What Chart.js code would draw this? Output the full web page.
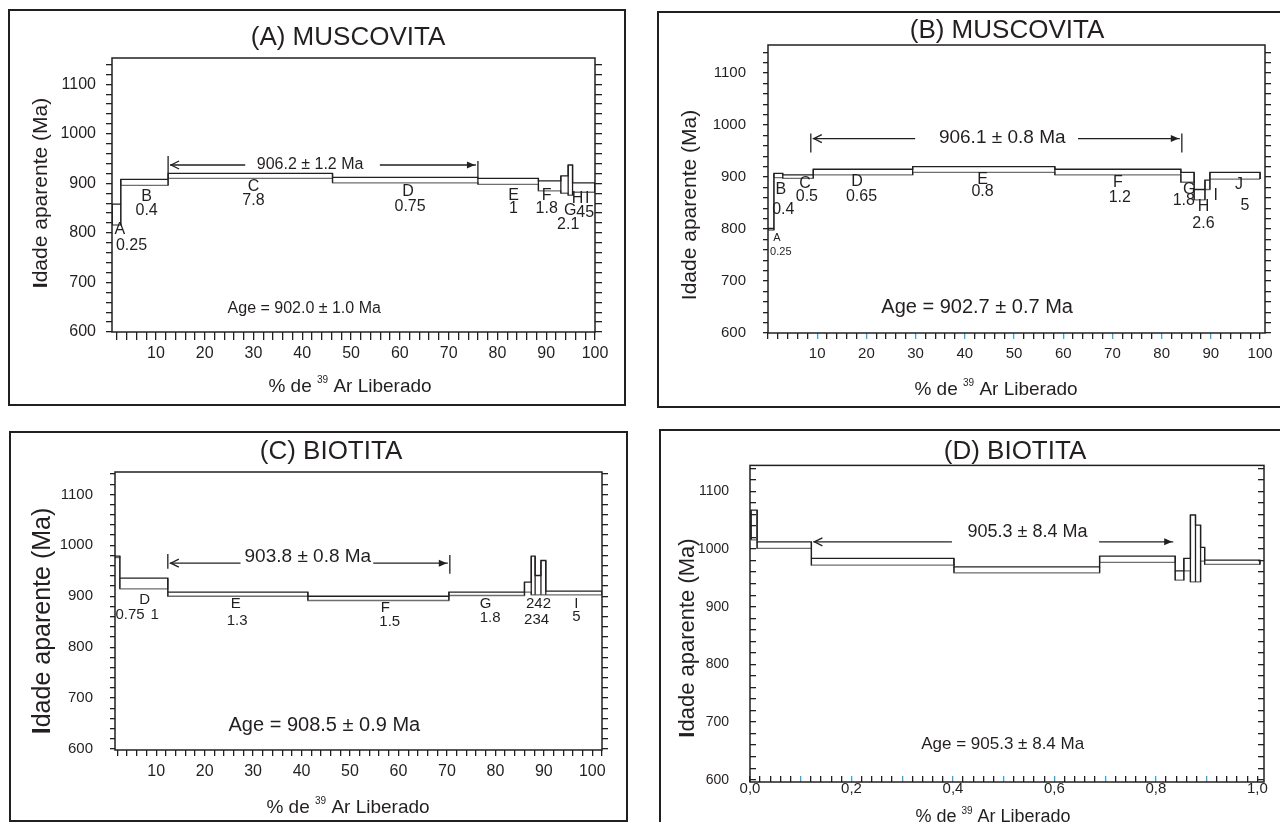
<!DOCTYPE html>
<html lang="pt">
<head>
<meta charset="utf-8">
<title>Espectros 40Ar/39Ar – Muscovita e Biotita</title>
<script src="https://cdn.jsdelivr.net/npm/chart.js@4.4.1/dist/chart.umd.min.js"></script>
<style>
  html, body { margin:0; padding:0; background:#fff; }
  body { width:1280px; height:822px; position:relative; overflow:hidden; }
  .box { position:absolute; border:2px solid #231f20; box-sizing:border-box; }
  canvas { position:absolute; }
</style>
</head>
<body>
<div class="box" style="left:8px;top:9px;width:618px;height:397px"></div>
<div class="box" style="left:657px;top:11px;width:700px;height:397px"></div>
<div class="box" style="left:9px;top:431px;width:619px;height:391px"></div>
<div class="box" style="left:659px;top:429px;width:700px;height:500px"></div>
<canvas id="cA" width="615" height="395" style="left:9px;top:10px"></canvas>
<canvas id="cB" width="622" height="394" style="left:658px;top:12px"></canvas>
<canvas id="cC" width="617" height="388" style="left:10px;top:432px"></canvas>
<canvas id="cD" width="620" height="392" style="left:660px;top:430px"></canvas>
<script>
// ================= DATA =================
// ---- (A) MUSCOVITA ----
const A_bounds = [1.0, 2.8, 12.5, 46.2, 76.0, 88.4, 93.0, 94.5, 95.4, 100];
const A_lo = [816, 896, 910, 901, 898, 885, 880, 876, 882];
const A_hi = [858, 908, 920, 912, 910, 905, 915, 937, 901];
const A_stepLabels = ['A','0.25','B','0.4','C','7.8','D','0.75','E','1','F','1.8','G','2.1','H','I','45'];
const A_stepLabelX = [2.6, 5.0, 8.1, 8.1, 30.0, 30.0, 61.7, 62.1, 83.3, 83.3, 90.1, 90.1, 94.9, 94.5, 96.4, 98.4, 98.0];
const A_stepLabelY = [807, 775, 873, 845, 893, 866, 883, 853, 876, 849, 876, 849, 846, 816, 870, 870, 842];
const A_plateau = [12.5, 76.0];
const A_plateauGap = [28.3, 55.9];
const A_plateauLevel = 937;
const A_barLeft = [920, 955];
const A_barRight = [913, 945];
const A_plateauText = '906.2 ± 1.2 Ma';
const A_plateauTextAt = [41.6, 937];
const A_ageText = 'Age = 902.0 ± 1.0 Ma';
const A_ageTextAt = [40.4, 648];
const A_xTickLabels = ['10','20','30','40','50','60','70','80','90','100'];
const A_yTickLabels = ['600','700','800','900','1000','1100'];

// ---- (B) MUSCOVITA ----
const B_bounds = [0, 1.2, 3.0, 9.2, 29.4, 58.3, 83.9, 86.6, 88.8, 89.8, 100];
const B_lo = [798, 899, 897.5, 904, 909, 904, 890, 856, 876, 896];
const B_hi = [801, 907, 904, 915, 920, 915, 909, 876, 894, 909];
const B_stepLabels = ['A','0.25','B','0.4','C','0.5','D','0.65','E','0.8','F','1.2','G','1.8','H','2.6','I','J','5'];
const B_stepLabelX = [1.8, 2.6, 2.6, 3.1, 7.5, 7.9, 18.1, 19.0, 43.6, 43.6, 71.1, 71.5, 85.6, 84.5, 88.5, 88.5, 91.0, 95.7, 96.9];
const B_stepLabelY = [782, 756, 875, 838, 888, 863, 891, 862, 896, 872, 889, 861, 876, 854, 843, 811, 865, 885, 846];
const B_plateau = [8.7, 84.1];
const B_plateauGap = [29.9, 63.0];
const B_plateauLevel = 974;
const B_barLeft = [947, 984];
const B_barRight = [947, 984];
const B_plateauText = '906.1 ± 0.8 Ma';
const B_plateauTextAt = [47.6, 976];
const B_ageText = 'Age = 902.7 ± 0.7 Ma';
const B_ageTextAt = [42.5, 650];
const B_xTickLabels = ['10','20','30','40','50','60','70','80','90','100'];
const B_yTickLabels = ['600','700','800','900','1000','1100'];

// ---- (C) BIOTITA ----
const C_bounds = [1.5, 2.5, 12.4, 41.3, 70.4, 86.0, 87.4, 88.2, 89.4, 90.4, 102];
const C_lo = [976, 914.6, 900, 891.6, 901.4, 908, 902.8, 902.8, 902.8, 902.8];
const C_hi = [978.7, 935.4, 908, 900, 908, 927.6, 978.7, 940.7, 970.2, 910];
const C_stepLabels = ['D','0.75','1','E','1.3','F','1.5','G','1.8','242','234','I','5'];
const C_stepLabelX = [7.6, 4.6, 9.7, 26.4, 26.7, 57.3, 58.2, 78.0, 78.9, 88.9, 88.5, 96.7, 96.7];
const C_stepLabelY = [892, 864, 864, 886, 852, 878, 849, 886, 858, 886, 854, 886, 859];
const C_plateau = [12.4, 70.6];
const C_plateauGap = [27.4, 54.8];
const C_plateauLevel = 965;
const C_barLeft = [954, 983];
const C_barRight = [944, 981];
const C_plateauText = '903.8 ± 0.8 Ma';
const C_plateauTextAt = [41.3, 977];
const C_ageText = 'Age = 908.5 ± 0.9 Ma';
const C_ageTextAt = [44.7, 646];
const C_xTickLabels = ['10','20','30','40','50','60','70','80','90','100'];
const C_yTickLabels = ['600','700','800','900','1000','1100'];

// ---- (D) BIOTITA ----
const D_bounds = [0.002, 0.014, 0.121, 0.402, 0.689, 0.838, 0.855, 0.868, 0.878, 0.888, 0.896, 1.005];
const D_lo = [1016, 1001, 972, 958.7, 976.7, 946, 962, 943, 943, 979, 973.3];
const D_hi = [1067.5, 1012.5, 983.7, 969, 987.7, 962, 983.7, 1059, 1041.5, 1003, 980.7];
const D_plateau = [0.121, 0.838];
const D_plateauGap = [0.398, 0.688];
const D_plateauLevel = 1012.5;
const D_plateauText = '905.3 ± 8.4 Ma';
const D_plateauTextAt = [0.547, 1030];
const D_ageText = 'Age = 905.3 ± 8.4 Ma';
const D_ageTextAt = [0.498, 662];
const D_xTickLabels = ['0,0','0,2','0,4','0,6','0,8','1,0'];
const D_yTickLabels = ['600','700','800','900','1000','1100'];

// ================= DRAWING =================
const INK = '#231f20', GREY = '#6d6e71', BLUE = '#29abe2';
const FONT = '"Liberation Sans", Arial, Helvetica, sans-serif';

function makeTicks(min, max, step) {
  const out = [];
  const k0 = Math.ceil(min / step - 1e-9), k1 = Math.floor(max / step + 1e-9);
  for (let k = k0; k <= k1; k++) out.push({ value: Math.round(k * step * 1e6) / 1e6 });
  return out;
}
function labelFor(list, v) {
  const s = list.find(l => Math.abs(parseFloat(l.replace(',', '.')) - v) < 1e-6);
  return s === undefined ? '' : s;
}
function text(ctx, s, x, y, size, weight) {
  ctx.font = (weight || 'normal') + ' ' + size + 'px ' + FONT;
  ctx.textAlign = 'center'; ctx.textBaseline = 'middle';
  ctx.fillText(s, x, y);
}
function yTitle(ctx, x, y, size, boldI) {
  ctx.save();
  ctx.translate(x, y); ctx.rotate(-Math.PI / 2);
  ctx.textBaseline = 'middle'; ctx.textAlign = 'left';
  const f1 = (boldI ? 'bold ' : '') + size + 'px ' + FONT, f2 = size + 'px ' + FONT;
  ctx.font = f1; const w1 = ctx.measureText('I').width;
  ctx.font = f2; const w2 = ctx.measureText('dade aparente (Ma)').width;
  let sx = -(w1 + w2) / 2;
  ctx.font = f1; ctx.fillText('I', sx, 0);
  ctx.font = f2; ctx.fillText('dade aparente (Ma)', sx + w1, 0);
  ctx.restore();
}
function xTitle(ctx, cx, cy, size) {
  const parts = [['% de ', size, 0], ['39', Math.round(size * 0.55), -size * 0.45], [' Ar Liberado', size, 0]];
  ctx.textAlign = 'left'; ctx.textBaseline = 'alphabetic';
  let total = 0;
  parts.forEach(pt => { ctx.font = pt[1] + 'px ' + FONT; pt.push(ctx.measureText(pt[0]).width); total += pt[3]; });
  let x = cx - total / 2; const base = cy + size * 0.36;
  parts.forEach(pt => { ctx.font = pt[1] + 'px ' + FONT; ctx.fillText(pt[0], x, base + pt[2]); x += pt[3]; });
}
function seg(ctx, x1, y1, x2, y2) { ctx.beginPath(); ctx.moveTo(x1, y1); ctx.lineTo(x2, y2); ctx.stroke(); }

function decorations(p) {
  return {
    id: 'deco' + p.id,
    afterDraw(chart) {
      const ctx = chart.ctx, a = chart.chartArea, xs = chart.scales.x, ys = chart.scales.y;
      const X = v => xs.getPixelForValue(v), Y = v => ys.getPixelForValue(v);
      ctx.save();
      ctx.strokeStyle = INK; ctx.fillStyle = INK; ctx.lineWidth = 1.5;
      ctx.strokeRect(a.left, a.top, a.right - a.left, a.bottom - a.top);
      text(ctx, p.title, p.titleAt[0], p.titleAt[1], 26);
      yTitle(ctx, p.yTitleAt[0], p.yTitleAt[1], p.yTitleSize, p.boldI);
      xTitle(ctx, p.xTitleAt[0], p.xTitleAt[1], p.xTitleSize);
      (p.stepLabels || []).forEach((s, i) => {
        const small = p.smallLabels && p.smallLabels.includes(i);
        text(ctx, s, X(p.stepLabelX[i]), Y(p.stepLabelY[i]), small ? p.smallSize : p.labelSize);
      });
      // plateau arrow
      ctx.lineWidth = 1.3;
      const x0 = X(p.plateau[0]), x1 = X(p.plateau[1]), yl = Y(p.plateauLevel);
      seg(ctx, x0 + 2, yl, X(p.plateauGap[0]), yl);
      seg(ctx, X(p.plateauGap[1]), yl, x1 - 2, yl);
      if (p.barLeft) seg(ctx, x0, Y(p.barLeft[0]), x0, Y(p.barLeft[1]));
      if (p.barRight) seg(ctx, x1, Y(p.barRight[0]), x1, Y(p.barRight[1]));
      const lt = x0 + 3;
      ctx.beginPath(); ctx.moveTo(lt + 8, yl - 4); ctx.lineTo(lt, yl); ctx.lineTo(lt + 8, yl + 4); ctx.stroke();
      const rt = x1 - 3;
      ctx.beginPath(); ctx.moveTo(rt - 8, yl - 3.5); ctx.lineTo(rt, yl); ctx.lineTo(rt - 8, yl + 3.5); ctx.closePath(); ctx.fill();
      text(ctx, p.plateauText, X(p.plateauTextAt[0]), Y(p.plateauTextAt[1]), p.plateauSize);
      text(ctx, p.ageText, X(p.ageTextAt[0]), Y(p.ageTextAt[1]), p.ageSize);
      ctx.restore();
    }
  };
}

function buildChart(p) {
  const n = p.lo.length, b = p.bounds;
  const upper = [{x: b[0], y: p.lo[0]}];
  const lower = [];
  for (let i = 0; i < n; i++) {
    upper.push({x: b[i], y: p.hi[i]}, {x: b[i + 1], y: p.hi[i]});
    lower.push({x: b[i], y: p.lo[i]}, {x: b[i + 1], y: p.lo[i]});
  }
  upper.push({x: b[n], y: p.lo[n - 1]});
  const edges = [];
  for (let i = 0; i < n; i++) {
    [b[i], b[i + 1]].forEach(xv => edges.push({x: xv, y: p.lo[i]}, {x: xv, y: p.hi[i]}, {x: xv, y: null}));
  }
  const line = (data, color) => ({data, showLine: true, borderColor: color, borderWidth: 1.3,
    pointRadius: 0, pointHoverRadius: 0, fill: false, tension: 0, spanGaps: false});
  const tickCol = c => (c.tick && p.blue && p.blue(c.tick.value)) ? BLUE : INK;
  const yScale = pos => ({
    type: 'linear', position: pos, min: p.yMin, max: p.yMax, bounds: 'data',
    afterBuildTicks: s => { s.ticks = makeTicks(p.yMin, p.yMax, p.yStep); },
    afterFit: s => { s.width = pos === 'left' ? p.yAxisW : p.y2AxisW; },
    ticks: { display: pos === 'left', autoSkip: false, padding: p.yPad, color: INK,
      font: {family: FONT, size: p.yFont}, callback: v => labelFor(p.yLabels, v) },
    grid: { drawOnChartArea: false, drawTicks: true, tickLength: pos === 'left' ? p.yTickLen : p.y2TickLen,
      lineWidth: 1.3, color: INK },
    border: { display: false }
  });
  return new Chart(document.getElementById(p.canvas), {
    type: 'scatter',
    data: { datasets: [line(upper, INK), line(edges, INK), line(lower, GREY)] },
    options: {
      responsive: false, animation: false, events: [],
      layout: { padding: { top: p.padTop, left: 0, right: 0, bottom: 0 } },
      plugins: { legend: {display: false}, tooltip: {enabled: false}, title: {display: false} },
      scales: {
        x: {
          type: 'linear', position: 'bottom', min: p.xMin, max: p.xMax, bounds: 'data',
          afterBuildTicks: s => { s.ticks = makeTicks(p.xMin, p.xMax, p.xStep); },
          afterFit: s => { s.height = p.xAxisH; },
          ticks: { autoSkip: false, maxRotation: 0, minRotation: 0, padding: p.xPad, color: INK,
            font: {family: FONT, size: p.xFont}, callback: v => labelFor(p.xLabels, v) },
          grid: { drawOnChartArea: false, drawTicks: true, tickLength: p.xTickLen, lineWidth: 1.3, color: tickCol },
          border: { display: false }
        },
        y: yScale('left'),
        y2: yScale('right')
      }
    },
    plugins: [decorations(p)]
  });
}

buildChart({
  id: 'A', canvas: 'cA', bounds: A_bounds, lo: A_lo, hi: A_hi,
  xMin: 1, xMax: 100, xStep: 2, xLabels: A_xTickLabels, yMin: 600, yMax: 1153, yStep: 20, yLabels: A_yTickLabels,
  yAxisW: 103, y2AxisW: 29, padTop: 48, xAxisH: 73,
  xFont: 16, yFont: 16, xPad: 4, yPad: 10, xTickLen: 8, yTickLen: 6, y2TickLen: 7,
  title: '(A) MUSCOVITA', titleAt: [339, 28], yTitleAt: [32, 183], yTitleSize: 21, boldI: true,
  xTitleAt: [341, 375], xTitleSize: 19,
  stepLabels: A_stepLabels, stepLabelX: A_stepLabelX, stepLabelY: A_stepLabelY, labelSize: 16,
  plateau: A_plateau, plateauGap: A_plateauGap, plateauLevel: A_plateauLevel, barLeft: A_barLeft, barRight: A_barRight,
  plateauText: A_plateauText, plateauTextAt: A_plateauTextAt, plateauSize: 16,
  ageText: A_ageText, ageTextAt: A_ageTextAt, ageSize: 16
});

buildChart({
  id: 'B', canvas: 'cB', bounds: B_bounds, lo: B_lo, hi: B_hi,
  xMin: 0, xMax: 101, xStep: 2, xLabels: B_xTickLabels, yMin: 600, yMax: 1154, yStep: 20, yLabels: B_yTickLabels,
  yAxisW: 110, y2AxisW: 15, padTop: 33, xAxisH: 73,
  xFont: 15, yFont: 15, xPad: 6, yPad: 17, xTickLen: 6, yTickLen: 5, y2TickLen: 6,
  blue: v => v > 0 && v < 100 && Math.abs(v / 10 - Math.round(v / 10)) < 1e-6,
  title: '(B) MUSCOVITA', titleAt: [349, 19], yTitleAt: [32, 193], yTitleSize: 21, boldI: false,
  xTitleAt: [338, 376], xTitleSize: 19,
  stepLabels: B_stepLabels, stepLabelX: B_stepLabelX, stepLabelY: B_stepLabelY, labelSize: 16,
  smallLabels: [0, 1], smallSize: 11,
  plateau: B_plateau, plateauGap: B_plateauGap, plateauLevel: B_plateauLevel, barLeft: B_barLeft, barRight: B_barRight,
  plateauText: B_plateauText, plateauTextAt: B_plateauTextAt, plateauSize: 19,
  ageText: B_ageText, ageTextAt: B_ageTextAt, ageSize: 20
});

buildChart({
  id: 'C', canvas: 'cC', bounds: C_bounds, lo: C_lo, hi: C_hi,
  xMin: 1.5, xMax: 102, xStep: 2, xLabels: C_xTickLabels, yMin: 598, yMax: 1144, yStep: 20, yLabels: C_yTickLabels,
  yAxisW: 105, y2AxisW: 25, padTop: 40, xAxisH: 70,
  xFont: 16, yFont: 15, xPad: 6, yPad: 17, xTickLen: 6, yTickLen: 5, y2TickLen: 6,
  title: '(C) BIOTITA', titleAt: [321, 20], yTitleAt: [33, 189], yTitleSize: 25, boldI: true,
  xTitleAt: [338, 374], xTitleSize: 19,
  stepLabels: C_stepLabels, stepLabelX: C_stepLabelX, stepLabelY: C_stepLabelY, labelSize: 15,
  plateau: C_plateau, plateauGap: C_plateauGap, plateauLevel: C_plateauLevel, barLeft: C_barLeft, barRight: C_barRight,
  plateauText: C_plateauText, plateauTextAt: C_plateauTextAt, plateauSize: 19,
  ageText: C_ageText, ageTextAt: C_ageTextAt, ageSize: 20
});

buildChart({
  id: 'D', canvas: 'cD', bounds: D_bounds, lo: D_lo, hi: D_hi,
  xMin: 0, xMax: 1.013, xStep: 0.02, xLabels: D_xTickLabels, yMin: 596, yMax: 1145, yStep: 20, yLabels: D_yTickLabels,
  yAxisW: 90, y2AxisW: 16, padTop: 35, xAxisH: 40,
  xFont: 15, yFont: 14, xPad: 4, yPad: 27, xTickLen: -6, yTickLen: -6, y2TickLen: -6,
  blue: v => v > 0.05 && v < 0.95 && Math.abs(v * 10 - Math.round(v * 10)) < 1e-6,
  title: '(D) BIOTITA', titleAt: [355, 22], yTitleAt: [28, 208], yTitleSize: 22, boldI: true,
  xTitleAt: [333, 386], xTitleSize: 18,
  plateau: D_plateau, plateauGap: D_plateauGap, plateauLevel: D_plateauLevel,
  plateauText: D_plateauText, plateauTextAt: D_plateauTextAt, plateauSize: 18,
  ageText: D_ageText, ageTextAt: D_ageTextAt, ageSize: 17
});
</script>
</body>
</html>
